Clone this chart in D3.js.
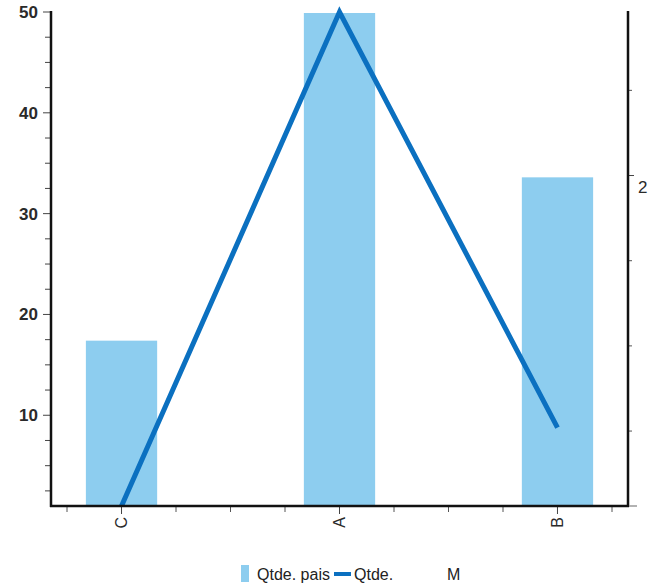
<!DOCTYPE html>
<html>
<head>
<meta charset="utf-8">
<script src="https://cdn.jsdelivr.net/npm/d3@7"></script>
<style>
  html, body { margin: 0; padding: 0; background: #fff; }
  svg { display: block; font-family: "Liberation Sans", Arial, sans-serif; }
</style>
</head>
<body>
<svg id="chart" width="652" height="584"></svg>
<script>
// ---- data ----
const categories = ["C", "A", "B"];
const paisValues = [17.4, 49.9, 33.6];
const mValues = [103, 248, 126];
const leftTicks = [10, 20, 30, 40, 50];
const leftMinorStep = 2.5;
const rightMajorTicks = [200];
const rightMinorStep = 25;
const legendLabels = ["Qtde. pais", "Qtde.", "M"];

const svg = d3.select("#chart");
const W = 652, H = 584;
const plot = { left: 51, right: 628, top: 12, bottom: 506 };
const barColor = "#8dcdef";
const lineColor = "#0b70c0";

const x = d3.scalePoint().domain(categories).range([plot.left, plot.right]).padding(0.3235);
const yL = d3.scaleLinear().domain([1, 50]).range([plot.bottom, plot.top]);
const yR = d3.scaleLinear().domain([103, 248]).range([plot.bottom, plot.top]);
const barW = x.step() * 0.327;

// bars
svg.append("g").selectAll("rect").data(categories).join("rect")
  .attr("x", d => x(d) - barW / 2)
  .attr("width", barW)
  .attr("y", (d, i) => yL(paisValues[i]))
  .attr("height", (d, i) => plot.bottom - yL(paisValues[i]))
  .attr("fill", barColor);

// line
const line = d3.line().x((d, i) => x(categories[i])).y(d => yR(d));
svg.append("path").datum(mValues)
  .attr("d", line)
  .attr("fill", "none")
  .attr("stroke", lineColor)
  .attr("stroke-width", 5)
  .attr("stroke-linejoin", "miter");

// left axis
const leftMinor = d3.range(leftMinorStep, 50, leftMinorStep).filter(v => !leftTicks.includes(v));
const gL = svg.append("g").attr("transform", `translate(${plot.left},0)`);
gL.selectAll("line.minor").data(leftMinor).join("line")
  .attr("x1", -6).attr("x2", 0).attr("y1", d => yL(d)).attr("y2", d => yL(d))
  .attr("stroke", "#444").attr("stroke-width", 1);
gL.selectAll("line.major").data(leftTicks).join("line")
  .attr("x1", -8).attr("x2", 0).attr("y1", d => yL(d)).attr("y2", d => yL(d))
  .attr("stroke", "#444").attr("stroke-width", 1);
gL.selectAll("text").data(leftTicks).join("text")
  .attr("x", -13).attr("y", d => yL(d)).attr("dy", "0.35em")
  .attr("text-anchor", "end").attr("font-size", 17).attr("fill", "#2a2a2a")
  .attr("font-weight", "bold")
  .text(d => d);

// right axis
const rightMinor = d3.range(125, 248, rightMinorStep).filter(v => !rightMajorTicks.includes(v));
const gR = svg.append("g").attr("transform", `translate(${plot.right},0)`);
gR.selectAll("line.minor").data(rightMinor).join("line")
  .attr("x1", 0).attr("x2", 4).attr("y1", d => yR(d)).attr("y2", d => yR(d))
  .attr("stroke", "#555").attr("stroke-width", 1);
gR.selectAll("line.major").data(rightMajorTicks).join("line")
  .attr("x1", 0).attr("x2", 6).attr("y1", d => yR(d)).attr("y2", d => yR(d))
  .attr("stroke", "#444").attr("stroke-width", 1);
gR.selectAll("text").data(rightMajorTicks).join("text")
  .attr("x", 10).attr("y", d => yR(d) + 17)
  .attr("text-anchor", "start").attr("font-size", 17).attr("fill", "#2a2a2a")
  .text(d => String(d).slice(0, 1));

// x axis ticks
const step = x.step();
const xMinor = [];
categories.forEach(c => {
  [-0.75, -0.5, -0.25, 0.25, 0.5, 0.75].forEach(f => {
    const p = x(c) + f * step;
    if (p > plot.left + 2 && p < plot.right - 2) xMinor.push(p);
  });
});
const uniqMinor = Array.from(new Set(xMinor.map(v => Math.round(v * 10) / 10)));
svg.append("g").selectAll("line").data(uniqMinor).join("line")
  .attr("x1", d => d).attr("x2", d => d)
  .attr("y1", plot.bottom).attr("y2", plot.bottom + 6)
  .attr("stroke", "#555").attr("stroke-width", 1);
svg.append("g").selectAll("line").data(categories).join("line")
  .attr("x1", d => x(d)).attr("x2", d => x(d))
  .attr("y1", plot.bottom).attr("y2", plot.bottom + 8)
  .attr("stroke", "#444").attr("stroke-width", 1);
svg.append("g").selectAll("text").data(categories).join("text")
  .attr("transform", d => `translate(${x(d)},${plot.bottom + 11}) rotate(-90)`)
  .attr("text-anchor", "end").attr("dy", "0.35em")
  .attr("font-size", 16).attr("fill", "#2a2a2a")
  .text(d => d);

// axis lines
svg.append("line").attr("x1", plot.left).attr("x2", plot.left)
  .attr("y1", plot.top - 1).attr("y2", plot.bottom + 1)
  .attr("stroke", "#111").attr("stroke-width", 2.5);
svg.append("line").attr("x1", plot.right).attr("x2", plot.right)
  .attr("y1", plot.top - 1).attr("y2", plot.bottom + 1)
  .attr("stroke", "#111").attr("stroke-width", 2.5);
svg.append("line").attr("x1", plot.left - 1).attr("x2", plot.right + 1)
  .attr("y1", plot.bottom).attr("y2", plot.bottom)
  .attr("stroke", "#111").attr("stroke-width", 2.5);
svg.append("line").attr("x1", plot.right + 1).attr("x2", plot.right + 9)
  .attr("y1", plot.bottom).attr("y2", plot.bottom)
  .attr("stroke", "#999").attr("stroke-width", 1.5);

// legend
const lg = svg.append("g");
lg.append("rect").attr("x", 241).attr("y", 565).attr("width", 8).attr("height", 17).attr("fill", barColor);
lg.append("text").attr("x", 257).attr("y", 580).attr("font-size", 16).attr("fill", "#222").text(legendLabels[0]);
lg.append("line").attr("x1", 334).attr("x2", 351).attr("y1", 574).attr("y2", 574)
  .attr("stroke", lineColor).attr("stroke-width", 4);
lg.append("text").attr("x", 354).attr("y", 580).attr("font-size", 16).attr("fill", "#222").text(legendLabels[1]);
lg.append("text").attr("x", 447).attr("y", 580).attr("font-size", 16).attr("fill", "#222").text(legendLabels[2]);
</script>
</body>
</html>
